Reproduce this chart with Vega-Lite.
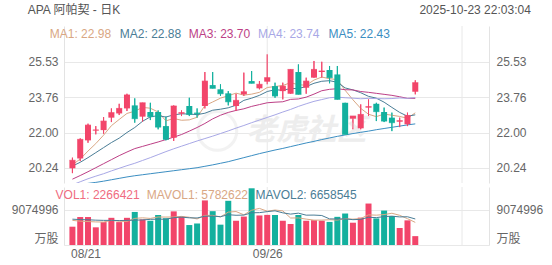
{
  "$schema": "https://vega.github.io/schema/vega-lite/v6.json",
  "padding": {"left": 11, "top": 3, "right": 5, "bottom": 0},
  "spacing": 1,
  "config": {
    "font": "Liberation Sans, Noto Sans CJK SC, sans-serif",
    "view": {"stroke": null},
    "axis": {"minExtent": 0, "labelFontSize": 12, "labelColor": "#666666", "labelFont": "Liberation Sans, Noto Sans CJK SC, sans-serif", "ticks": false, "title": null, "gridColor": "#e8e8e8", "domainColor": "#e3e3e3"}
  },
  "datasets": {
    "k": [
      {"i":0,"o":20.22,"h":20.75,"l":19.98,"c":20.62,"v":4680000,"ma1":20.40,"ma2":20.33,"ma3":19.68,"ma4":19.40,"ma5":19.35,"mv1":6300000,"mv2":6600000},
      {"i":1,"o":20.71,"h":21.71,"l":20.58,"c":21.66,"v":7150000,"ma1":20.68,"ma2":20.52,"ma3":19.86,"ma4":19.55,"ma5":19.41,"mv1":6100000,"mv2":6500000},
      {"i":2,"o":21.61,"h":22.44,"l":21.49,"c":22.37,"v":7150000,"ma1":21.08,"ma2":20.75,"ma3":20.05,"ma4":19.70,"ma5":19.47,"mv1":6000000,"mv2":6450000},
      {"i":3,"o":22.10,"h":22.32,"l":21.91,"c":22.13,"v":4520000,"ma1":21.45,"ma2":21.00,"ma3":20.25,"ma4":19.83,"ma5":19.52,"mv1":5900000,"mv2":6350000},
      {"i":4,"o":22.12,"h":22.77,"l":21.94,"c":22.57,"v":5850000,"ma1":21.87,"ma2":21.25,"ma3":20.45,"ma4":19.95,"ma5":19.58,"mv1":5870000,"mv2":6300000},
      {"i":5,"o":22.74,"h":23.20,"l":22.52,"c":22.99,"v":6950000,"ma1":22.34,"ma2":21.50,"ma3":20.65,"ma4":20.09,"ma5":19.65,"mv1":6320000,"mv2":6300000},
      {"i":6,"o":22.95,"h":23.43,"l":22.87,"c":23.20,"v":5850000,"ma1":22.65,"ma2":21.72,"ma3":20.85,"ma4":20.22,"ma5":19.72,"mv1":6060000,"mv2":6250000},
      {"i":7,"o":23.20,"h":23.93,"l":23.07,"c":23.87,"v":6950000,"ma1":22.95,"ma2":22.00,"ma3":21.03,"ma4":20.35,"ma5":19.79,"mv1":6020000,"mv2":6300000},
      {"i":8,"o":23.35,"h":23.70,"l":22.49,"c":22.69,"v":8450000,"ma1":23.06,"ma2":22.25,"ma3":21.20,"ma4":20.47,"ma5":19.85,"mv1":6810000,"mv2":6350000},
      {"i":9,"o":22.79,"h":23.48,"l":22.54,"c":23.48,"v":6550000,"ma1":23.25,"ma2":22.56,"ma3":21.31,"ma4":20.61,"ma5":19.90,"mv1":6950000,"mv2":6410000},
      {"i":10,"o":23.02,"h":23.48,"l":22.62,"c":22.79,"v":6200000,"ma1":23.21,"ma2":22.78,"ma3":21.42,"ma4":20.75,"ma5":19.95,"mv1":6800000,"mv2":6560000},
      {"i":11,"o":23.02,"h":23.10,"l":22.16,"c":22.27,"v":7670000,"ma1":23.02,"ma2":22.84,"ma3":21.53,"ma4":20.90,"ma5":20.00,"mv1":7160000,"mv2":6610000},
      {"i":12,"o":22.32,"h":22.79,"l":21.61,"c":21.66,"v":6850000,"ma1":22.58,"ma2":22.77,"ma3":21.65,"ma4":21.05,"ma5":20.05,"mv1":7140000,"mv2":6580000},
      {"i":13,"o":21.74,"h":23.35,"l":21.58,"c":23.32,"v":8600000,"ma1":22.70,"ma2":22.88,"ma3":21.77,"ma4":21.19,"ma5":20.10,"mv1":7170000,"mv2":6990000},
      {"i":14,"o":22.94,"h":23.10,"l":22.82,"c":22.99,"v":7240000,"ma1":22.61,"ma2":22.93,"ma3":21.90,"ma4":21.32,"ma5":20.15,"mv1":7310000,"mv2":7130000},
      {"i":15,"o":23.32,"h":23.73,"l":22.82,"c":22.90,"v":5100000,"ma1":22.63,"ma2":22.92,"ma3":22.07,"ma4":21.45,"ma5":20.20,"mv1":7090000,"mv2":6950000},
      {"i":16,"o":22.99,"h":23.20,"l":22.74,"c":22.94,"v":5500000,"ma1":22.76,"ma2":22.89,"ma3":22.25,"ma4":21.58,"ma5":20.25,"mv1":6660000,"mv2":6910000},
      {"i":17,"o":23.32,"h":25.01,"l":23.20,"c":24.56,"v":11400000,"ma1":23.34,"ma2":22.96,"ma3":22.45,"ma4":21.70,"ma5":20.32,"mv1":7570000,"mv2":7360000},
      {"i":18,"o":24.36,"h":25.01,"l":24.20,"c":24.20,"v":8650000,"ma1":23.52,"ma2":23.11,"ma3":22.68,"ma4":21.82,"ma5":20.39,"mv1":7580000,"mv2":7380000},
      {"i":19,"o":24.15,"h":24.40,"l":23.82,"c":23.93,"v":5200000,"ma1":23.71,"ma2":23.16,"ma3":22.86,"ma4":21.95,"ma5":20.47,"mv1":7170000,"mv2":7240000},
      {"i":20,"o":23.95,"h":24.06,"l":23.35,"c":23.53,"v":11300000,"ma1":23.83,"ma2":23.23,"ma3":23.00,"ma4":22.08,"ma5":20.55,"mv1":8410000,"mv2":7750000},
      {"i":21,"o":23.32,"h":23.93,"l":23.07,"c":23.60,"v":6200000,"ma1":23.96,"ma2":23.36,"ma3":23.10,"ma4":22.22,"ma5":20.65,"mv1":8550000,"mv2":7600000},
      {"i":22,"o":23.90,"h":24.98,"l":23.82,"c":24.03,"v":7270000,"ma1":23.86,"ma2":23.60,"ma3":23.18,"ma4":22.35,"ma5":20.75,"mv1":7720000,"mv2":7650000},
      {"i":23,"o":24.56,"h":25.06,"l":24.45,"c":24.45,"v":14500000,"ma1":23.91,"ma2":23.71,"ma3":23.30,"ma4":22.49,"ma5":20.85,"mv1":8890000,"mv2":8240000},
      {"i":24,"o":24.20,"h":24.56,"l":24.15,"c":24.40,"v":7550000,"ma1":24.00,"ma2":23.85,"ma3":23.39,"ma4":22.62,"ma5":20.95,"mv1":9360000,"mv2":8270000},
      {"i":25,"o":24.53,"h":25.89,"l":24.40,"c":24.73,"v":7700000,"ma1":24.24,"ma2":24.04,"ma3":23.48,"ma4":22.75,"ma5":21.04,"mv1":8640000,"mv2":8530000},
      {"i":26,"o":24.31,"h":24.48,"l":23.73,"c":23.82,"v":7670000,"ma1":24.29,"ma2":24.13,"ma3":23.51,"ma4":22.88,"ma5":21.13,"mv1":8940000,"mv2":8740000},
      {"i":27,"o":24.06,"h":24.48,"l":23.65,"c":24.31,"v":6200000,"ma1":24.34,"ma2":24.10,"ma3":23.53,"ma4":23.02,"ma5":21.21,"mv1":8720000,"mv2":8220000},
      {"i":28,"o":23.93,"h":25.14,"l":23.93,"c":25.14,"v":5370000,"ma1":24.48,"ma2":24.19,"ma3":23.65,"ma4":23.15,"ma5":21.30,"mv1":6900000,"mv2":7900000},
      {"i":29,"o":25.01,"h":25.39,"l":23.90,"c":23.90,"v":7670000,"ma1":24.38,"ma2":24.19,"ma3":23.67,"ma4":23.30,"ma5":21.39,"mv1":6920000,"mv2":8140000},
      {"i":30,"o":24.23,"h":24.73,"l":23.93,"c":24.56,"v":6200000,"ma1":24.35,"ma2":24.29,"ma3":23.76,"ma4":23.43,"ma5":21.48,"mv1":6620000,"mv2":7630000},
      {"i":31,"o":24.73,"h":25.56,"l":24.73,"c":25.14,"v":6350000,"ma1":24.61,"ma2":24.45,"ma3":23.91,"ma4":23.55,"ma5":21.56,"mv1":6360000,"mv2":7650000},
      {"i":32,"o":25.01,"h":25.52,"l":24.73,"c":25.06,"v":6200000,"ma1":24.76,"ma2":24.55,"ma3":24.08,"ma4":23.64,"ma5":21.65,"mv1":6360000,"mv2":7540000},
      {"i":33,"o":25.11,"h":25.31,"l":24.45,"c":24.73,"v":5900000,"ma1":24.68,"ma2":24.58,"ma3":24.15,"ma4":23.73,"ma5":21.73,"mv1":6460000,"mv2":6680000},
      {"i":34,"o":24.89,"h":25.31,"l":23.65,"c":23.65,"v":7200000,"ma1":24.63,"ma2":24.50,"ma3":24.18,"ma4":23.76,"ma5":21.81,"mv1":6370000,"mv2":6650000},
      {"i":35,"o":23.48,"h":23.48,"l":21.91,"c":21.91,"v":8050000,"ma1":24.10,"ma2":24.22,"ma3":24.13,"ma4":23.73,"ma5":21.88,"mv1":6740000,"mv2":6680000},
      {"i":36,"o":22.69,"h":22.82,"l":22.16,"c":22.82,"v":5700000,"ma1":23.63,"ma2":24.12,"ma3":24.12,"ma4":23.71,"ma5":21.95,"mv1":6610000,"mv2":6480000},
      {"i":37,"o":22.21,"h":23.40,"l":22.16,"c":22.90,"v":7000000,"ma1":23.20,"ma2":23.98,"ma3":24.04,"ma4":23.68,"ma5":22.01,"mv1":6770000,"mv2":6560000},
      {"i":38,"o":23.24,"h":23.65,"l":22.82,"c":23.29,"v":10600000,"ma1":22.91,"ma2":23.80,"ma3":24.00,"ma4":23.70,"ma5":22.07,"mv1":7710000,"mv2":7090000},
      {"i":39,"o":23.43,"h":23.48,"l":22.57,"c":23.04,"v":6800000,"ma1":22.79,"ma2":23.71,"ma3":23.95,"ma4":23.69,"ma5":22.14,"mv1":7630000,"mv2":7000000},
      {"i":40,"o":23.02,"h":23.24,"l":22.52,"c":22.57,"v":8800000,"ma1":22.92,"ma2":23.51,"ma3":23.90,"ma4":23.68,"ma5":22.20,"mv1":7780000,"mv2":7260000},
      {"i":41,"o":22.74,"h":22.99,"l":22.07,"c":22.49,"v":7400000,"ma1":22.86,"ma2":23.25,"ma3":23.85,"ma4":23.69,"ma5":22.26,"mv1":8120000,"mv2":7370000},
      {"i":42,"o":22.54,"h":22.74,"l":22.27,"c":22.59,"v":4350000,"ma1":22.80,"ma2":23.00,"ma3":23.78,"ma4":23.72,"ma5":22.32,"mv1":7590000,"mv2":7180000},
      {"i":43,"o":22.41,"h":22.99,"l":22.32,"c":22.85,"v":6300000,"ma1":22.71,"ma2":22.81,"ma3":23.70,"ma4":23.70,"ma5":22.38,"mv1":6730000,"mv2":7220000},
      {"i":44,"o":24.03,"h":24.60,"l":23.90,"c":24.48,"v":2266421,"ma1":22.98,"ma2":22.88,"ma3":23.70,"ma4":23.74,"ma5":22.43,"mv1":5782622,"mv2":6658545}
    ]
  },
  "vconcat": [
    {
      "width": 425,
      "height": 157,
      "data": {"name": "k"},
      "layer": [
        {
          "mark": {"type": "rule", "strokeWidth": 1},
          "encoding": {
            "x": {"field": "i", "type": "quantitative", "scale": {"domain": [-0.439, 52.82], "nice": false, "zero": false},
                  "axis": {"orient": "bottom", "values": [25, 50], "labels": false, "domain": false, "ticks": false, "grid": false}},
            "y": {"field": "l", "type": "quantitative", "scale": {"domain": [19.489, 27.30], "nice": false, "zero": false},
                  "axis": {"orient": "left", "values": [20.24, 22.0, 23.76, 25.53], "format": ".2f", "grid": true, "domain": true, "labelPadding": 6, "title": null}},
            "y2": {"field": "h"},
            "color": {"condition": {"test": "datum.c >= datum.o", "value": "#f2456a"}, "value": "#13b09e"}
          }
        },
        {
          "mark": {"type": "tick", "opacity": 0},
          "encoding": {
            "x": {"field": "i", "type": "quantitative"},
            "y": {"field": "c", "type": "quantitative", "scale": {"domain": [19.489, 27.30], "nice": false, "zero": false},
                  "axis": {"orient": "right", "values": [20.24, 22.0, 23.76, 25.53], "format": ".2f", "grid": false, "domain": true, "labelPadding": 7, "title": null}}
          }
        },
        {
          "data": {"values": [{}]},
          "mark": {"type": "rule", "strokeWidth": 1, "color": "#e8e8e8"},
          "encoding": {"x": {"datum": 25, "type": "quantitative"}}
        },
        {
          "data": {"values": [{}]},
          "mark": {"type": "rule", "strokeWidth": 1, "color": "#e8e8e8"},
          "encoding": {"x": {"datum": 50, "type": "quantitative"}}
        },
        {
          "data": {"values": [{}]},
          "mark": {"type": "point", "shape": "circle", "filled": false, "stroke": "#ededed", "strokeWidth": 3, "size": 1500},
          "encoding": {
            "x": {"datum": 18.6, "type": "quantitative"},
            "y": {"datum": 22.08, "type": "quantitative", "scale": {"domain": [19.489, 27.30], "nice": false, "zero": false}, "axis": null}
          }
        },
        {
          "data": {"values": [{}]},
          "mark": {"type": "text", "text": "老虎社区", "fontSize": 30, "fontStyle": "italic", "fontWeight": "bold", "color": "#ededed", "align": "center", "baseline": "middle", "font": "Noto Sans CJK SC"},
          "encoding": {
            "x": {"datum": 30.0, "type": "quantitative"},
            "y": {"datum": 22.08, "type": "quantitative", "scale": {"domain": [19.489, 27.30], "nice": false, "zero": false}, "axis": null}
          }
        },
        {
          "transform": [{"fold": ["ma1", "ma2", "ma3", "ma4", "ma5"], "as": ["key", "val"]}],
          "mark": {"type": "line", "strokeWidth": 1, "clip": true},
          "encoding": {
            "x": {"field": "i", "type": "quantitative"},
            "y": {"field": "val", "type": "quantitative", "scale": {"domain": [19.489, 27.30], "nice": false, "zero": false}, "axis": null},
            "color": {"field": "key", "type": "nominal", "legend": null,
                      "scale": {"domain": ["ma1", "ma2", "ma3", "ma4", "ma5"], "range": ["#d9a784", "#4a7d96", "#bd3f86", "#a8a8e6", "#3b8ec2"]}}
          }
        },
        {
          "mark": {"type": "rule", "strokeWidth": 1},
          "encoding": {
            "x": {"field": "i", "type": "quantitative"},
            "y": {"field": "l", "type": "quantitative", "scale": {"domain": [19.489, 27.30], "nice": false, "zero": false}, "axis": null},
            "y2": {"field": "h"},
            "color": {"condition": {"test": "datum.c >= datum.o", "value": "#f2456a"}, "value": "#13b09e"}
          }
        },
        {
          "mark": {"type": "bar", "size": 6},
          "encoding": {
            "x": {"field": "i", "type": "quantitative"},
            "y": {"field": "o", "type": "quantitative", "scale": {"domain": [19.489, 27.30], "nice": false, "zero": false}, "axis": null},
            "y2": {"field": "c"},
            "color": {"condition": {"test": "datum.c >= datum.o", "value": "#f2456a"}, "value": "#13b09e"}
          }
        },
        {
          "mark": {"type": "tick", "orient": "horizontal", "size": 6, "thickness": 1},
          "encoding": {
            "x": {"field": "i", "type": "quantitative"},
            "y": {"field": "c", "type": "quantitative", "scale": {"domain": [19.489, 27.30], "nice": false, "zero": false}, "axis": null},
            "color": {"condition": {"test": "datum.c >= datum.o", "value": "#f2456a"}, "value": "#13b09e"}
          }
        },
        {
          "data": {"values": [{}]},
          "mark": {"type": "text", "text": "APA 阿帕契 - 日K", "fontSize": 12, "color": "#555555", "align": "left", "baseline": "middle"},
          "encoding": {"x": {"datum": -5.74, "type": "quantitative"}, "y": {"datum": 28.12, "type": "quantitative", "scale": {"domain": [19.489, 27.30], "nice": false, "zero": false}, "axis": null}}
        },
        {
          "data": {"values": [{}]},
          "mark": {"type": "text", "text": "2025-10-23  22:03:04", "fontSize": 12, "color": "#555555", "align": "right", "baseline": "middle"},
          "encoding": {"x": {"datum": 58.83, "type": "quantitative"}, "y": {"datum": 28.12, "type": "quantitative", "scale": {"domain": [19.489, 27.30], "nice": false, "zero": false}, "axis": null}}
        },
        {
          "data": {"values": [{}]},
          "mark": {"type": "text", "text": "MA1: 22.98", "fontSize": 12, "color": "#d9a784", "align": "left", "baseline": "middle"},
          "encoding": {"x": {"datum": -2.91, "type": "quantitative"}, "y": {"datum": 26.90, "type": "quantitative", "scale": {"domain": [19.489, 27.30], "nice": false, "zero": false}, "axis": null}}
        },
        {
          "data": {"values": [{}]},
          "mark": {"type": "text", "text": "MA2: 22.88", "fontSize": 12, "color": "#4a7d96", "align": "left", "baseline": "middle"},
          "encoding": {"x": {"datum": 6.08, "type": "quantitative"}, "y": {"datum": 26.90, "type": "quantitative", "scale": {"domain": [19.489, 27.30], "nice": false, "zero": false}, "axis": null}}
        },
        {
          "data": {"values": [{}]},
          "mark": {"type": "text", "text": "MA3: 23.70", "fontSize": 12, "color": "#bd3f86", "align": "left", "baseline": "middle"},
          "encoding": {"x": {"datum": 14.94, "type": "quantitative"}, "y": {"datum": 26.90, "type": "quantitative", "scale": {"domain": [19.489, 27.30], "nice": false, "zero": false}, "axis": null}}
        },
        {
          "data": {"values": [{}]},
          "mark": {"type": "text", "text": "MA4: 23.74", "fontSize": 12, "color": "#a8a8e6", "align": "left", "baseline": "middle"},
          "encoding": {"x": {"datum": 23.83, "type": "quantitative"}, "y": {"datum": 26.90, "type": "quantitative", "scale": {"domain": [19.489, 27.30], "nice": false, "zero": false}, "axis": null}}
        },
        {
          "data": {"values": [{}]},
          "mark": {"type": "text", "text": "MA5: 22.43", "fontSize": 12, "color": "#3b8ec2", "align": "left", "baseline": "middle"},
          "encoding": {"x": {"datum": 32.86, "type": "quantitative"}, "y": {"datum": 26.90, "type": "quantitative", "scale": {"domain": [19.489, 27.30], "nice": false, "zero": false}, "axis": null}}
        }
      ],
      "resolve": {"scale": {"y": "independent"}}
    },
    {
      "width": 425,
      "height": 58,
      "data": {"name": "k"},
      "layer": [
        {
          "data": {"values": [{}]},
          "mark": {"type": "rule", "strokeWidth": 1, "color": "#e8e8e8"},
          "encoding": {"x": {"datum": 25, "type": "quantitative", "scale": {"domain": [-0.439, 52.82], "nice": false, "zero": false}}}
        },
        {
          "data": {"values": [{}]},
          "mark": {"type": "rule", "strokeWidth": 1, "color": "#e8e8e8"},
          "encoding": {"x": {"datum": 50, "type": "quantitative"}}
        },
        {
          "mark": {"type": "bar", "size": 6},
          "encoding": {
            "x": {"field": "i", "type": "quantitative", "scale": {"domain": [-0.439, 52.82], "nice": false, "zero": false},
                  "axis": {"orient": "bottom", "values": [-0.25, 25], "domain": false, "ticks": false, "grid": false, "labelPadding": 3, "labelFlush": false,
                           "labelExpr": "datum.value < 1 ? '08/21' : '09/26'",
                           "labelAlign": {"condition": {"test": "datum.value < 1", "value": "left"}, "value": "center"}}},
            "y": {"field": "v", "type": "quantitative", "scale": {"domain": [0, 14830000], "nice": false, "zero": true},
                  "axis": {"orient": "left", "values": [0, 9074996], "grid": true, "domain": true, "labelPadding": 6, "title": null,
                           "labelExpr": "datum.value == 0 ? '万股' : '9074996'",
                           "labelBaseline": {"condition": {"test": "datum.value == 0", "value": "bottom"}, "value": "middle"}}},
            "color": {"condition": {"test": "datum.c >= datum.o", "value": "#f2456a"}, "value": "#13b09e"}
          }
        },
        {
          "mark": {"type": "tick", "opacity": 0},
          "encoding": {
            "x": {"field": "i", "type": "quantitative"},
            "y": {"field": "v", "type": "quantitative", "scale": {"domain": [0, 14830000], "nice": false, "zero": true},
                  "axis": {"orient": "right", "values": [0, 9074996], "grid": false, "domain": true, "labelPadding": 7, "title": null,
                           "labelExpr": "datum.value == 0 ? '万股' : '9074996'",
                           "labelBaseline": {"condition": {"test": "datum.value == 0", "value": "bottom"}, "value": "middle"}}}
          }
        },
        {
          "mark": {"type": "line", "strokeWidth": 1, "color": "#d9a784", "clip": true},
          "encoding": {
            "x": {"field": "i", "type": "quantitative"},
            "y": {"field": "mv1", "type": "quantitative", "scale": {"domain": [0, 14830000], "nice": false, "zero": true}, "axis": null}
          }
        },
        {
          "mark": {"type": "line", "strokeWidth": 1, "color": "#4a7d96", "clip": true},
          "encoding": {
            "x": {"field": "i", "type": "quantitative"},
            "y": {"field": "mv2", "type": "quantitative", "scale": {"domain": [0, 14830000], "nice": false, "zero": true}, "axis": null}
          }
        },
        {
          "data": {"values": [{}]},
          "mark": {"type": "text", "text": "VOL1: 2266421", "fontSize": 12, "color": "#f06b80", "align": "left", "baseline": "middle"},
          "encoding": {"x": {"datum": -2.16, "type": "quantitative"}, "y": {"datum": 12860000, "type": "quantitative", "scale": {"domain": [0, 14830000], "nice": false, "zero": true}, "axis": null}}
        },
        {
          "data": {"values": [{}]},
          "mark": {"type": "text", "text": "MAVOL1: 5782622", "fontSize": 12, "color": "#d9a784", "align": "left", "baseline": "middle"},
          "encoding": {"x": {"datum": 9.55, "type": "quantitative"}, "y": {"datum": 12860000, "type": "quantitative", "scale": {"domain": [0, 14830000], "nice": false, "zero": true}, "axis": null}}
        },
        {
          "data": {"values": [{}]},
          "mark": {"type": "text", "text": "MAVOL2: 6658545", "fontSize": 12, "color": "#4a7d96", "align": "left", "baseline": "middle"},
          "encoding": {"x": {"datum": 23.5, "type": "quantitative"}, "y": {"datum": 12860000, "type": "quantitative", "scale": {"domain": [0, 14830000], "nice": false, "zero": true}, "axis": null}}
        }
      ],
      "resolve": {"scale": {"y": "independent"}}
    }
  ]
}
